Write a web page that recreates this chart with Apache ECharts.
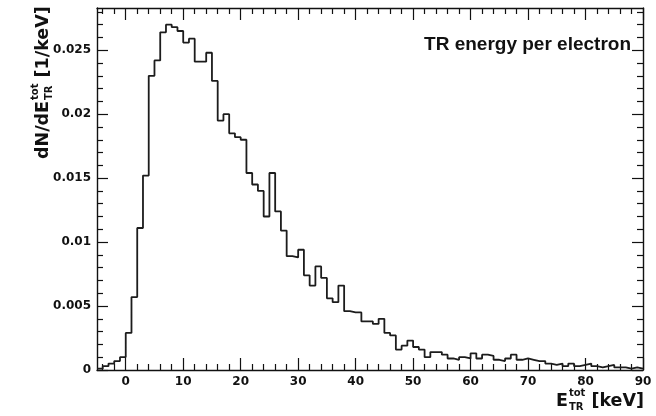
<!DOCTYPE html>
<html>
<head>
<meta charset="utf-8">
<script src="https://cdn.jsdelivr.net/npm/echarts@6/dist/echarts.min.js"></script>
<style>
  html, body { margin: 0; padding: 0; background: #fff; }
  #chart { width: 656px; height: 416px; }
</style>
</head>
<body>
<div id="chart"></div>
<script>
// Histogram of total TR energy per electron: 1 keV bins from -5 to 90 keV
const binLow = -5;
const binWidth = 1;
const dNdE = [
  0.0001, 0.0003, 0.0005, 0.0007, 0.0010,            // -5 .. -1
  0.0029, 0.0057, 0.0111, 0.0152, 0.0230,            // 0 .. 4
  0.0242, 0.0264, 0.0270, 0.0268, 0.0265,            // 5 .. 9
  0.0256, 0.0259, 0.0241, 0.0241, 0.0248,            // 10 .. 14
  0.0226, 0.0195, 0.0200, 0.0185, 0.0182,            // 15 .. 19
  0.0180, 0.0154, 0.0145, 0.0140, 0.0120,            // 20 .. 24
  0.0154, 0.0124, 0.0109, 0.0089, 0.0088,            // 25 .. 29
  0.0094, 0.0074, 0.0066, 0.0081, 0.0072,            // 30 .. 34
  0.0056, 0.0053, 0.0066, 0.0046, 0.0045,            // 35 .. 39
  0.0045, 0.0038, 0.0038, 0.0036, 0.0040,            // 40 .. 44
  0.0029, 0.0027, 0.0016, 0.0019, 0.0023,            // 45 .. 49
  0.0018, 0.0016, 0.0010, 0.0014, 0.0014,            // 50 .. 54
  0.0012, 0.0009, 0.0008, 0.0010, 0.0009,            // 55 .. 59
  0.0013, 0.0009, 0.0012, 0.0011, 0.0008,            // 60 .. 64
  0.0007, 0.0009, 0.0012, 0.0008, 0.0009,            // 65 .. 69
  0.0008, 0.0007, 0.0007, 0.0005, 0.0004,            // 70 .. 74
  0.0005, 0.0003, 0.0005, 0.0003, 0.0004,            // 75 .. 79
  0.0005, 0.0003, 0.0002, 0.0003, 0.0004,            // 80 .. 84
  0.0002, 0.0002, 0.0001, 0.0002, 0.0001             // 85 .. 89
];

const xMin = -5, xMax = 90;
const yMin = 0, yMax = 0.0283;
const xMajorTicks = [0, 10, 20, 30, 40, 50, 60, 70, 80, 90];
const xMinorTicks = [-4, -2, 2, 4, 6, 8, 12, 14, 16, 18, 22, 24, 26, 28, 32, 34, 36, 38,
  42, 44, 46, 48, 52, 54, 56, 58, 62, 64, 66, 68, 72, 74, 76, 78, 82, 84, 86, 88];
const yMajorTicks = [0, 0.005, 0.01, 0.015, 0.02, 0.025];
const yMinorTicks = [0.001, 0.002, 0.003, 0.004, 0.006, 0.007, 0.008, 0.009,
  0.011, 0.012, 0.013, 0.014, 0.016, 0.017, 0.018, 0.019,
  0.021, 0.022, 0.023, 0.024, 0.026, 0.027, 0.028];

const FONT = '"DejaVu Sans", "Liberation Sans", sans-serif';
const FONT_HELV = '"Liberation Sans", Arial, sans-serif';
const INK = '#111';

// step outline: each bin's lower edge with its content, closed at the upper edge of the last bin
const outline = dNdE.map((v, i) => [binLow + i * binWidth, v]);
outline.push([binLow + dNdE.length * binWidth, dNdE[dNdE.length - 1]]);

const measure = document.createElement('canvas').getContext('2d');
function textWidth(str, size) {
  measure.font = 'bold ' + size + 'px ' + FONT;
  return measure.measureText(str).width;
}

function xAxisDef(position, ticks, len, withLabels, withLine) {
  return {
    type: 'value', position: position, min: xMin, max: xMax,
    axisLine: { show: withLine, onZero: false, lineStyle: { color: INK, width: 1.4 } },
    axisTick: { show: true, inside: true, length: len, customValues: ticks,
      lineStyle: { color: INK, width: 1.2 } },
    axisLabel: withLabels ? {
      show: true, customValues: ticks, margin: 6, color: INK,
      fontFamily: FONT, fontSize: 12, fontWeight: 'bold'
    } : { show: false },
    splitLine: { show: false }
  };
}
function yAxisDef(position, ticks, len, withLabels, withLine) {
  return {
    type: 'value', position: position, min: yMin, max: yMax,
    axisLine: { show: withLine, onZero: false, lineStyle: { color: INK, width: 1.4 } },
    axisTick: { show: true, inside: true, length: len, customValues: ticks,
      lineStyle: { color: INK, width: 1.2 } },
    axisLabel: withLabels ? {
      show: true, customValues: ticks, margin: 6, color: INK,
      fontFamily: FONT, fontSize: 12, fontWeight: 'bold',
      formatter: v => (v === 0 ? '0' : String(+v.toFixed(3)))
    } : { show: false },
    splitLine: { show: false }
  };
}

// axis titles with stacked superscript/subscript
const mainSize = 17.5, scriptSize = 10;
const wDN = textWidth('dN/dE', mainSize);
const wScript = Math.max(textWidth('tot', scriptSize), textWidth('TR', scriptSize));
const wE = textWidth('E', mainSize);
const wKeV = textWidth(' [keV]', mainSize);
const xTitleRight = 644;
const xTitleLeft = xTitleRight - (wE + 1 + wScript + wKeV);

function piece(text, x, y, size) {
  return { type: 'text', x: x, y: y, style: { text: text, fontSize: size, fontFamily: FONT,
    fontWeight: 'bold', fill: INK, align: 'left', verticalAlign: 'middle' } };
}

const yTitle = {
  type: 'group', x: 43, y: 159, rotation: Math.PI / 2,
  children: [
    piece('dN/dE', 0, 0, mainSize),
    piece('tot', wDN + 1, -8, scriptSize),
    piece('TR', wDN + 1, 6, scriptSize),
    piece(' [1/keV]', wDN + 1 + wScript, 0, mainSize)
  ]
};
const xTitle = {
  type: 'group', x: xTitleLeft, y: 401,
  children: [
    piece('E', 0, 0, mainSize),
    piece('tot', wE + 1, -8, scriptSize),
    piece('TR', wE + 1, 6, scriptSize),
    piece(' [keV]', wE + 1 + wScript, 0, mainSize)
  ]
};
const legendText = {
  type: 'text', x: 631, y: 45,
  style: { text: 'TR energy per electron', fontSize: 19, fontFamily: FONT_HELV, fontWeight: 'bold',
    fill: INK, align: 'right', verticalAlign: 'middle' }
};

const chart = echarts.init(document.getElementById('chart'), null, { renderer: 'canvas' });
chart.setOption({
  animation: false,
  backgroundColor: '#fff',
  grid: { left: 97, right: 13, top: 8, bottom: 46, containLabel: false },
  xAxis: [
    xAxisDef('bottom', xMajorTicks, 12, true, true),
    xAxisDef('bottom', xMinorTicks, 6, false, false),
    xAxisDef('top', xMajorTicks, 12, false, true),
    xAxisDef('top', xMinorTicks, 6, false, false)
  ],
  yAxis: [
    yAxisDef('left', yMajorTicks, 11, true, true),
    yAxisDef('left', yMinorTicks, 6, false, false),
    yAxisDef('right', yMajorTicks, 11, false, true),
    yAxisDef('right', yMinorTicks, 6, false, false)
  ],
  series: [{
    type: 'line',
    name: 'TR energy per electron',
    xAxisIndex: 0, yAxisIndex: 0,
    step: 'end',
    data: outline,
    showSymbol: false,
    lineStyle: { color: '#1c1c1c', width: 1.8 },
    clip: true
  }],
  graphic: [yTitle, xTitle, legendText]
});
</script>
</body>
</html>
